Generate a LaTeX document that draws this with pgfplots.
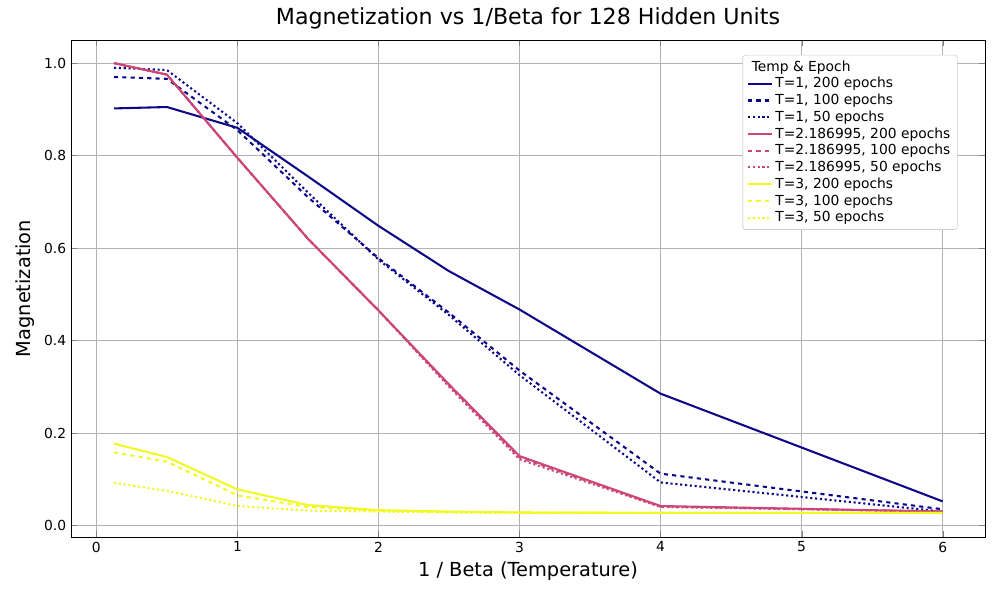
\documentclass[border=0pt]{standalone}
\usepackage{pgfplots}
\pgfplotsset{compat=1.18}
\usepackage{fontspec}
\setmainfont{DejaVu Sans}
\definecolor{cA}{HTML}{0D0887}
\definecolor{cB}{HTML}{CC4778}
\definecolor{cC}{HTML}{F0F921}
\begin{document}
\begin{tikzpicture}
\path[use as bounding box] (0,0) rectangle (10in,6in);
\begin{axis}[at={(0.71in,0.63in)},anchor=south west,
width=9.14in,height=4.97in,scale only axis,
xmin=-0.18,xmax=6.3,ymin=-0.025,ymax=1.05,
xtick={0,1,2,3,4,5,6},ytick={0,0.2,0.4,0.6,0.8,1.0},
yticklabel style={/pgf/number format/.cd,fixed,fixed zerofill,precision=1},
/pgf/number format/assume math mode=true,
tick label style={font=\fontsize{10}{12}\selectfont},
grid=major,grid style={gray!60},
title={Magnetization vs 1/Beta for 128 Hidden Units},
title style={font=\fontsize{16}{19}\selectfont,yshift=-2pt},
xlabel={1 / Beta (Temperature)},ylabel={Magnetization},
label style={font=\fontsize{14}{17}\selectfont},
legend pos=north east,
legend style={font=\fontsize{10}{12}\selectfont,draw=gray!40,rounded corners=2pt,row sep=-1pt},
legend cell align=left,
every axis plot/.append style={line width=1.5pt},
]
\addlegendimage{empty legend}\addlegendentry{\hspace{-0.6cm}Temp \& Epoch}
\addplot[cA] coordinates {(0.125,0.902)(0.5,0.905)(1,0.86)(1.5,0.755)(2,0.648)(2.5,0.55)(3,0.467)(4,0.285)(6,0.052)};
\addlegendentry{T=1, 200 epochs}
\addplot[cA,dashed] coordinates {(0.125,0.97)(0.5,0.966)(1,0.855)(1.5,0.71)(2,0.578)(2.5,0.46)(3,0.335)(4,0.112)(6,0.035)};
\addlegendentry{T=1, 100 epochs}
\addplot[cA,dotted] coordinates {(0.125,0.99)(0.5,0.985)(1,0.87)(1.5,0.72)(2,0.575)(2.5,0.455)(3,0.325)(4,0.093)(6,0.03)};
\addlegendentry{T=1, 50 epochs}
\addplot[cB] coordinates {(0.125,1.0)(0.5,0.975)(1,0.795)(1.5,0.62)(2,0.465)(2.5,0.305)(3,0.15)(4,0.042)(6,0.03)};
\addlegendentry{T=2.186995, 200 epochs}
\addplot[cB,dashed] coordinates {(0.125,1.0)(0.5,0.975)(1,0.795)(1.5,0.62)(2,0.465)(2.5,0.303)(3,0.147)(4,0.041)(6,0.03)};
\addlegendentry{T=2.186995, 100 epochs}
\addplot[cB,dotted] coordinates {(0.125,1.0)(0.5,0.975)(1,0.795)(1.5,0.62)(2,0.465)(2.5,0.30)(3,0.143)(4,0.040)(6,0.03)};
\addlegendentry{T=2.186995, 50 epochs}
\addplot[cC] coordinates {(0.125,0.177)(0.5,0.148)(1,0.078)(1.5,0.044)(2,0.033)(2.5,0.030)(3,0.028)(4,0.027)(6,0.027)};
\addlegendentry{T=3, 200 epochs}
\addplot[cC,dashed] coordinates {(0.125,0.158)(0.5,0.138)(1,0.065)(1.5,0.04)(2,0.032)(2.5,0.029)(3,0.028)(4,0.027)(6,0.027)};
\addlegendentry{T=3, 100 epochs}
\addplot[cC,dotted] coordinates {(0.125,0.092)(0.5,0.075)(1,0.042)(1.5,0.032)(2,0.030)(2.5,0.028)(3,0.027)(4,0.027)(6,0.027)};
\addlegendentry{T=3, 50 epochs}
\end{axis}
\end{tikzpicture}
\end{document}
